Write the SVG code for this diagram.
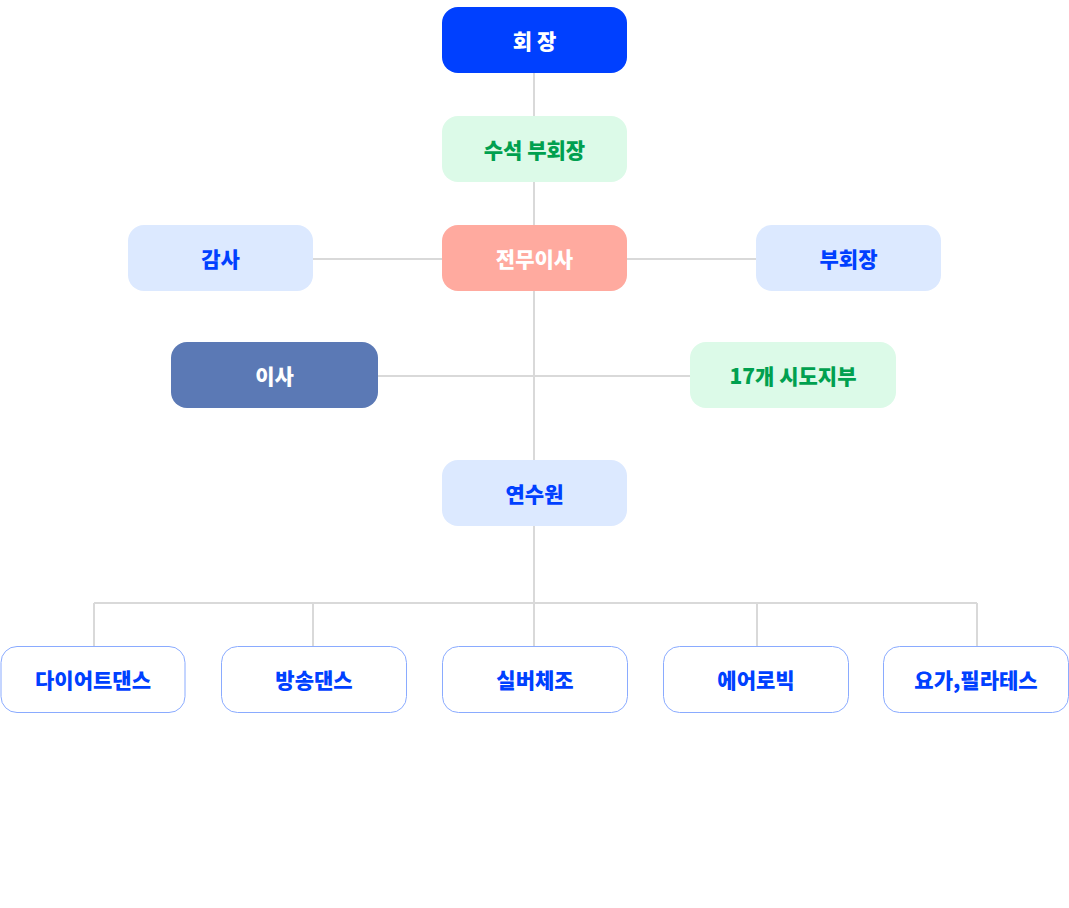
<svg xmlns="http://www.w3.org/2000/svg" width="1069" height="908" viewBox="0 0 1069 908">
<style>
text{font-family:"Noto Sans CJK KR","Noto Sans",sans-serif;font-size:21px;font-weight:800;text-anchor:middle;dominant-baseline:central}
.blue rect{fill:#0040ff}.blue text{fill:#fff}
.green rect{fill:#dcfae8}.green text{fill:#00a04f}
.lb rect{fill:#dce9ff}.lb text{fill:#0040ff}
.salmon rect{fill:#ffaa9f}.salmon text{fill:#fff}
.slate rect{fill:#5b79b5}.slate text{fill:#fff}
.out rect{fill:#fff;stroke:#8aabff;stroke-width:1}.out text{fill:#0040ff}
.conn{stroke:#d9d9d9;stroke-width:2;fill:none}
</style>
<rect width="1069" height="908" fill="#fff"/>
<g id="connectors" class="conn">
<path d="M534 73V646"/>
<path d="M313 259H756"/>
<path d="M378 376H690"/>
<path d="M94 603H977"/>
<path d="M94 603V646M313 603V646M757 603V646M977 603V646"/>
</g>
<g id="n1" class="blue"><rect x="442" y="7" width="185" height="66" rx="16"/><text x="534.5" y="40">회 장</text></g>
<g id="n2" class="green"><rect x="442" y="116" width="185" height="66" rx="16"/><text x="534.5" y="149">수석 부회장</text></g>
<g id="n3" class="lb"><rect x="128" y="225" width="185" height="66" rx="16"/><text x="220.5" y="258">감사</text></g>
<g id="n4" class="salmon"><rect x="442" y="225" width="185" height="66" rx="16"/><text x="534.5" y="258">전무이사</text></g>
<g id="n5" class="lb"><rect x="756" y="225" width="185" height="66" rx="16"/><text x="848.5" y="258">부회장</text></g>
<g id="n6" class="slate"><rect x="171" y="342" width="207" height="66" rx="16"/><text x="274.5" y="375">이사</text></g>
<g id="n7" class="green"><rect x="690" y="342" width="206" height="66" rx="16"/><text x="793" y="375">17개 시도지부</text></g>
<g id="n8" class="lb"><rect x="442" y="460" width="185" height="66" rx="16"/><text x="534.5" y="493">연수원</text></g>
<g id="n9" class="out"><rect x="1" y="646.5" width="184" height="66" rx="16"/><text x="93" y="679">다이어트댄스</text></g>
<g id="n10" class="out"><rect x="221.5" y="646.5" width="185" height="66" rx="16"/><text x="314" y="679">방송댄스</text></g>
<g id="n11" class="out"><rect x="442.5" y="646.5" width="185" height="66" rx="16"/><text x="535" y="679">실버체조</text></g>
<g id="n12" class="out"><rect x="663.5" y="646.5" width="185" height="66" rx="16"/><text x="756" y="679">에어로빅</text></g>
<g id="n13" class="out"><rect x="883.5" y="646.5" width="185" height="66" rx="16"/><text x="976" y="679">요가,필라테스</text></g>
</svg>
